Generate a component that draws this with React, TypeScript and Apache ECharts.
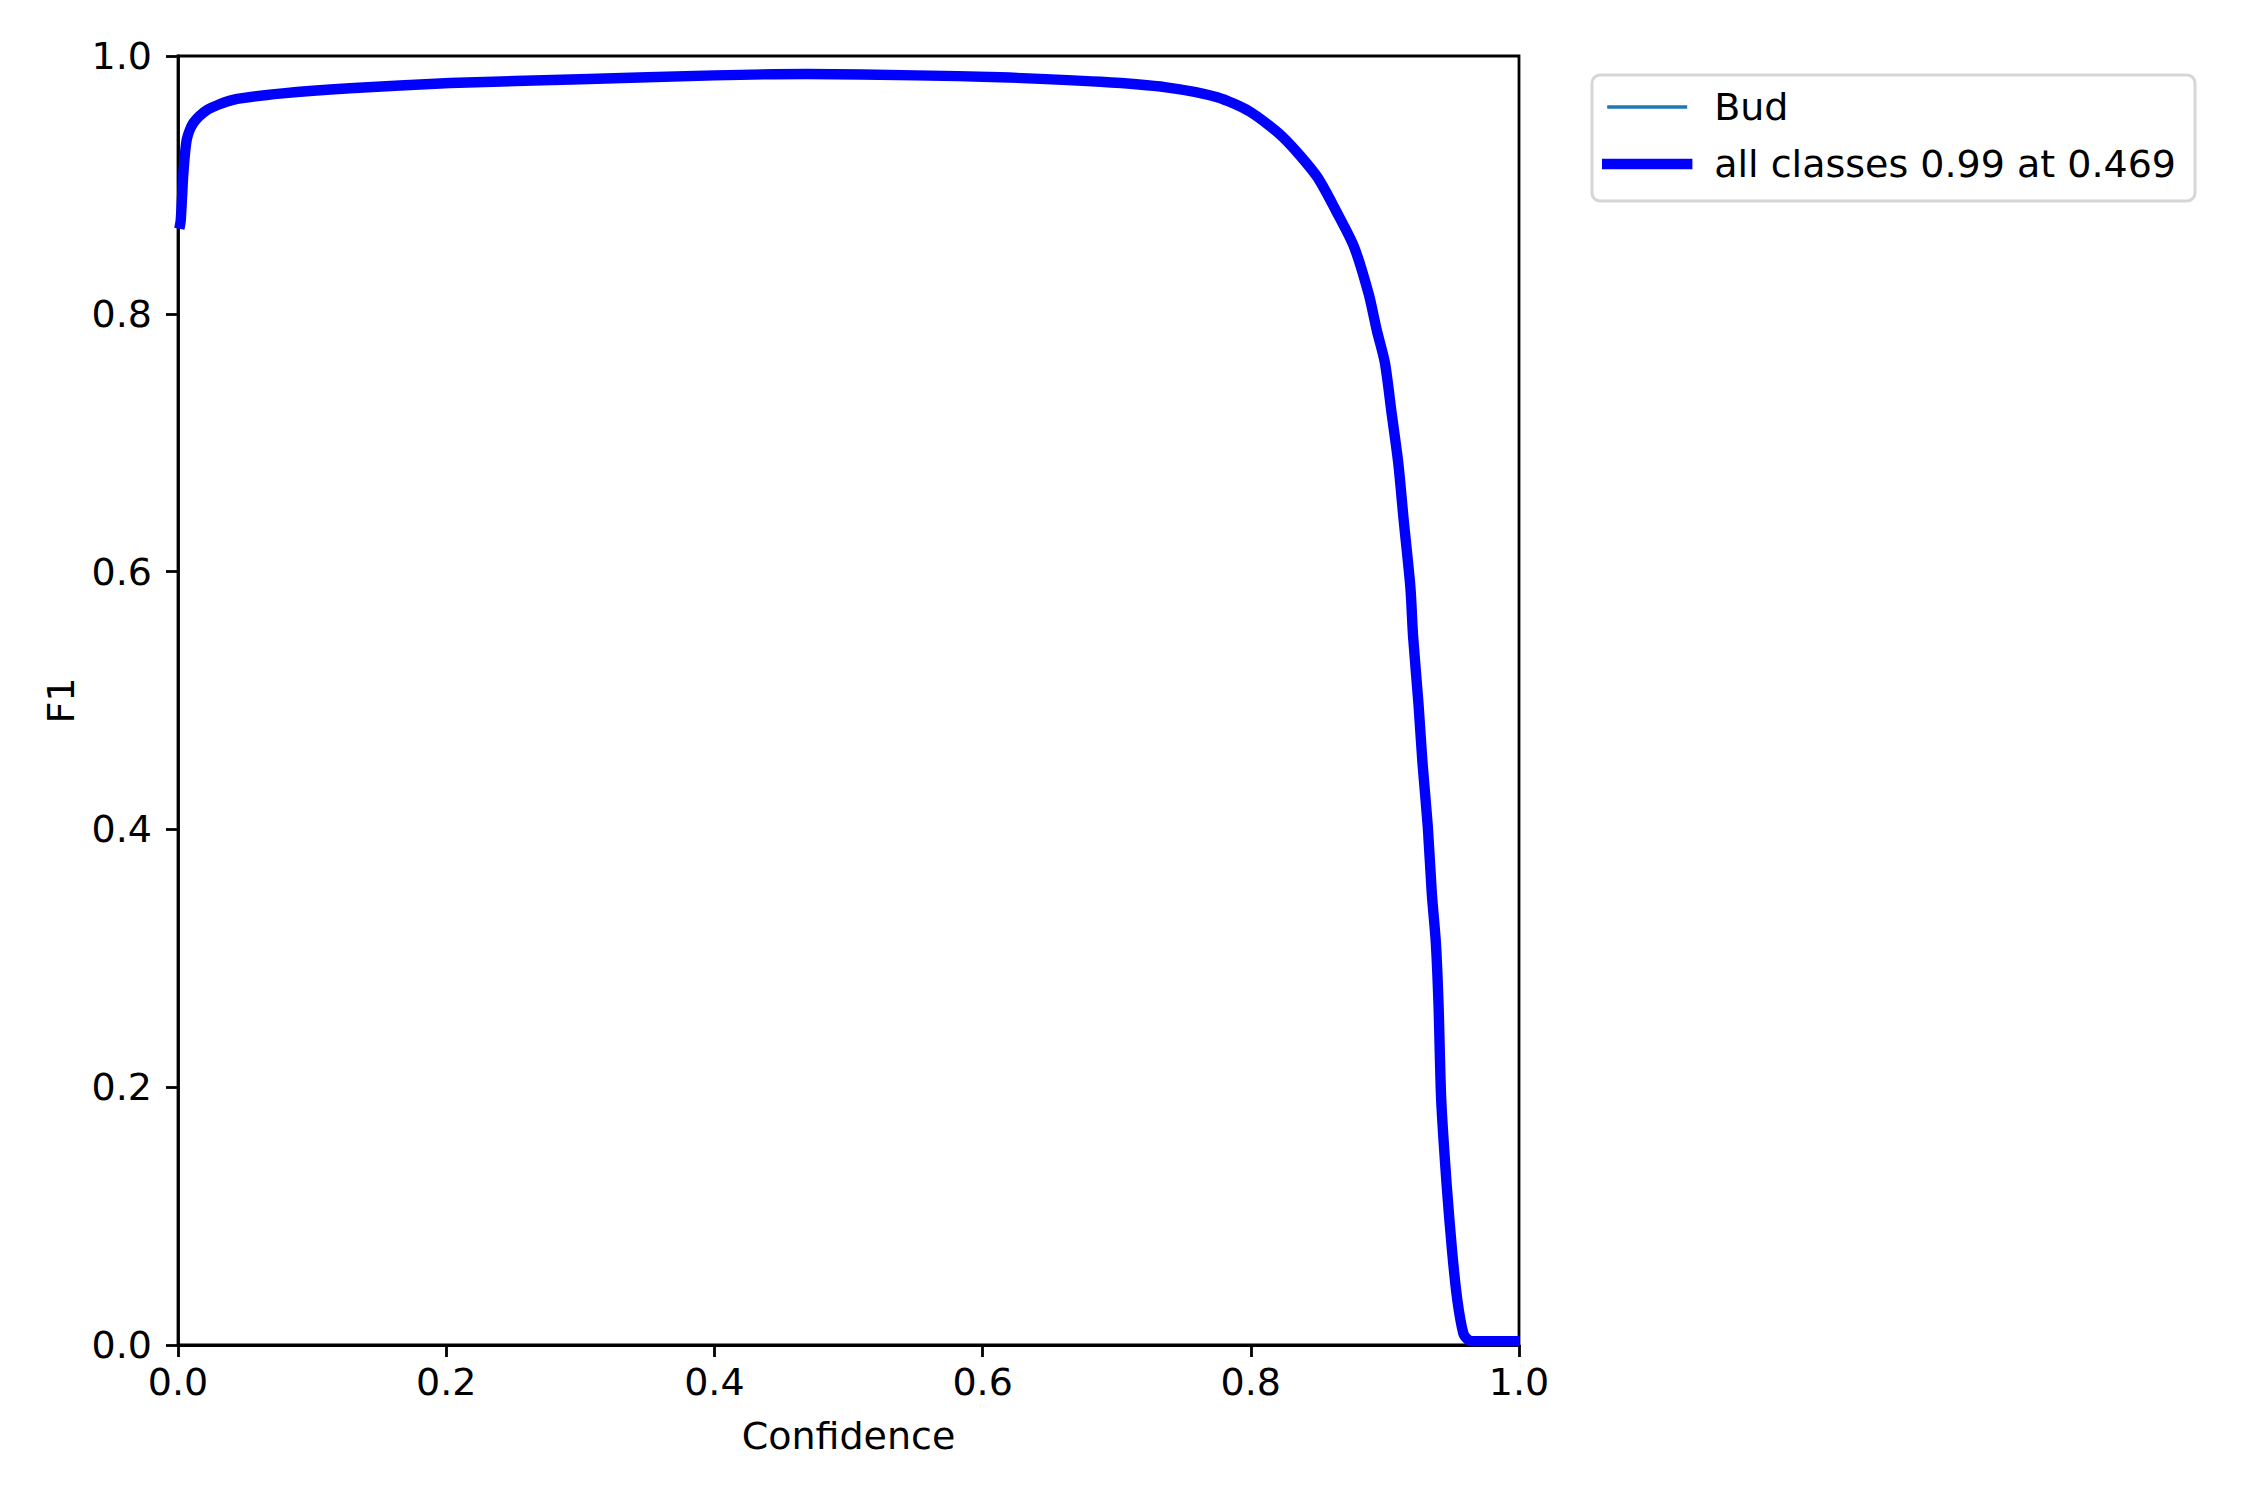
import React, { useEffect, useRef } from "react";
import * as echarts from "echarts";

const confidence = [0.001, 0.002, 0.003, 0.004, 0.0065, 0.0114, 0.0214, 0.041, 0.078, 0.128, 0.203, 0.3, 0.4, 0.469, 0.55, 0.613, 0.688, 0.737, 0.775, 0.799, 0.824, 0.849, 0.864, 0.877, 0.888, 0.894, 0.9, 0.905, 0.91, 0.914, 0.919, 0.921, 0.925, 0.928, 0.932, 0.935, 0.938, 0.94, 0.942, 0.946, 0.95, 0.954, 0.9585, 0.962, 0.965, 1.0];
const budF1 = [0.866, 0.872, 0.89, 0.909, 0.935, 0.948, 0.958, 0.966, 0.971, 0.975, 0.979, 0.982, 0.985, 0.986, 0.985, 0.9835, 0.98, 0.9757, 0.968, 0.957, 0.937, 0.907, 0.879, 0.852, 0.815, 0.787, 0.762, 0.723, 0.684, 0.64, 0.588, 0.55, 0.498, 0.452, 0.402, 0.35, 0.312, 0.264, 0.19, 0.125, 0.074, 0.035, 0.009, 0.004, 0.003, 0.003];
const allClassesF1 = budF1.slice();
const seriesNames = ["Bud", "all classes 0.99 at 0.469"];
const axisTicks = [0, 0.2, 0.4, 0.6, 0.8, 1.0];

const FONT = "DejaVu Sans";

export default function App() {
  const ref = useRef<HTMLDivElement>(null);
  useEffect(() => {
    document.body.style.margin = "0";
    if (!ref.current) return;
    const chart = echarts.init(ref.current, undefined, { renderer: "svg" });
    const budData = confidence.map((c, i) => [c, budF1[i]]);
    const allData = confidence.map((c, i) => [c, allClassesF1[i]]);
    const axisCommon = {
      type: "value" as const,
      min: axisTicks[0],
      max: axisTicks[axisTicks.length - 1],
      interval: 0.2,
      splitLine: { show: false },
      axisLine: { show: true, lineStyle: { color: "#000", width: 2.8 } },
      axisTick: { show: true, inside: false, length: 12, lineStyle: { color: "#000", width: 2.8 } },
      nameLocation: "middle" as const,
      nameTextStyle: { fontFamily: FONT, fontSize: 38, color: "#000" },
    };
    chart.setOption({
      animation: false,
      backgroundColor: "#fff",
      grid: {
        left: 178,
        top: 56,
        width: 1341,
        height: 1289,
        show: true,
        borderColor: "#000",
        borderWidth: 2.8,
        backgroundColor: "transparent",
      },
      xAxis: {
        ...axisCommon,
        name: "Confidence",
        nameGap: 72,
        axisLabel: {
          fontFamily: FONT,
          fontSize: 38,
          color: "#000",
          margin: 18,
          formatter: (v: number) => v.toFixed(1),
        },
      },
      yAxis: {
        ...axisCommon,
        name: "F1",
        nameGap: 98,
        axisLabel: {
          fontFamily: FONT,
          fontSize: 38,
          color: "#000",
          margin: 26,
          formatter: (v: number) => v.toFixed(1),
        },
      },
      legend: {
        orient: "vertical",
        left: 1592,
        top: 75,
        padding: [13, 19, 18, 10],
        itemGap: 19,
        itemWidth: 80,
        itemHeight: 14,
        selectedMode: false,
        borderColor: "#d6d6d6",
        borderWidth: 3,
        borderRadius: 8,
        backgroundColor: "rgba(255,255,255,0.8)",
        textStyle: {
          fontFamily: FONT,
          fontSize: 38,
          color: "#000",
          lineHeight: 38,
          padding: [0, 0, 0, 22],
        },
        data: [
          { name: seriesNames[0], itemStyle: { opacity: 0 }, lineStyle: { width: 3.5, color: "#1f77b4" } },
          { name: seriesNames[1], itemStyle: { opacity: 0 }, lineStyle: { width: 10.4, color: "#0000ff", cap: "square" } },
        ],
      },
      series: [
        {
          name: seriesNames[0],
          type: "line",
          data: budData,
          symbol: "none",
          smooth: 0.25,
          color: "#1f77b4",
          lineStyle: { width: 3.5, color: "#1f77b4" },
          clip: true,
        },
        {
          name: seriesNames[1],
          type: "line",
          data: allData,
          symbol: "none",
          smooth: 0.25,
          color: "#0000ff",
          lineStyle: { width: 10.4, color: "#0000ff", join: "round" },
          clip: true,
        },
      ],
    });
    return () => chart.dispose();
  }, []);
  return <div ref={ref} style={{ width: 2250, height: 1500 }} />;
}
